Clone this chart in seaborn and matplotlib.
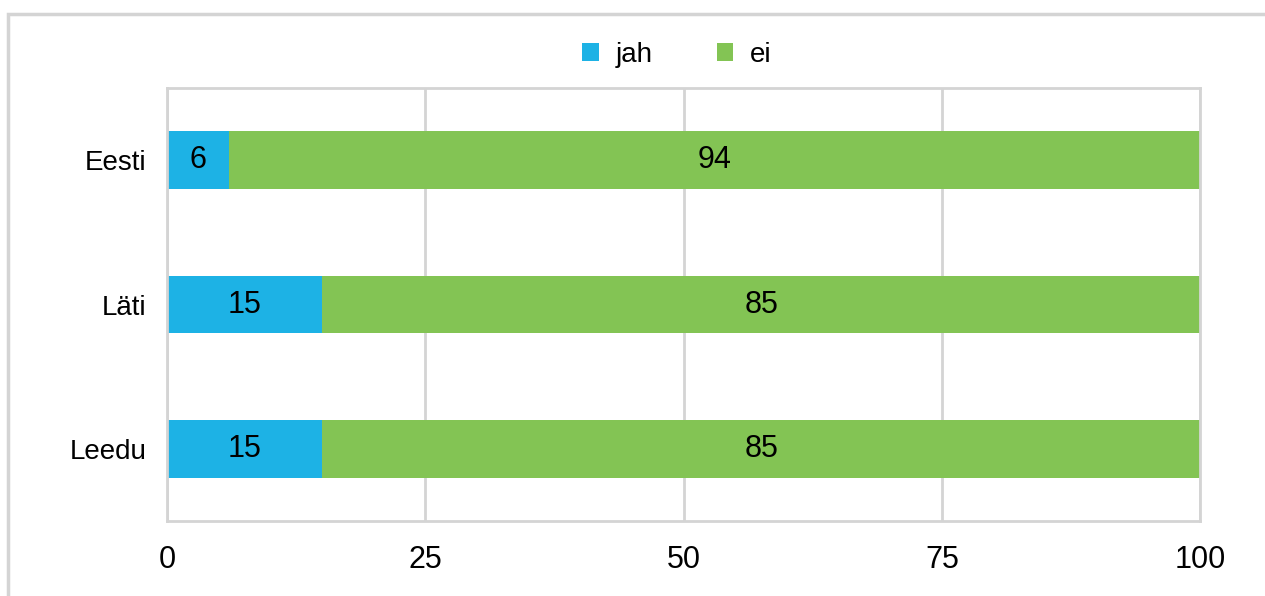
import pandas as pd
import seaborn as sns
import matplotlib.pyplot as plt
from matplotlib.patches import Rectangle, Patch

sns.set_style('white')
plt.rcParams['font.family'] = ['Liberation Sans', 'DejaVu Sans']

countries = ['Eesti', 'Läti', 'Leedu']
jah = [6, 15, 15]
ei = [94, 85, 85]
x_ticks = [0, 25, 50, 75, 100]

blue = '#1DB2E5'
green = '#83C454'
grey = '#D4D4D4'

df = pd.DataFrame({'country': countries, 'jah': jah, 'ei': ei})
df['total'] = df['jah'] + df['ei']

fig = plt.figure(figsize=(12.65, 5.96), dpi=100)
ax = fig.add_axes([0.132, 0.1258, 0.8168, 0.7265])

# stacked: full bar in green, jah part on top in blue
sns.barplot(data=df, x='total', y='country', color=green, width=0.4,
            orient='h', ax=ax, saturation=1, linewidth=0)
sns.barplot(data=df, x='jah', y='country', color=blue, width=0.4,
            orient='h', ax=ax, saturation=1, linewidth=0)

for i, (j, e) in enumerate(zip(jah, ei)):
    ax.text(j / 2, i, str(j), ha='center', va='center', fontsize=22, color='black')
    ax.text(j + e / 2, i, str(e), ha='center', va='center', fontsize=22, color='black')

ax.set_xlim(0, 100)
ax.set_ylim(2.5, -0.5)
ax.set_xticks(x_ticks)
ax.set_xticklabels([str(t) for t in x_ticks], fontsize=22)
ax.tick_params(axis='x', length=0, pad=17, colors='black')
ax.tick_params(axis='y', length=0, pad=15, labelsize=20, colors='black')
ax.set_xlabel('')
ax.set_ylabel('')
ax.grid(axis='x', color=grey, linewidth=2)
ax.set_axisbelow(True)
for s in ax.spines.values():
    s.set_color(grey)
    s.set_linewidth(2)

handles = [Patch(facecolor=blue, edgecolor='none', label='jah'),
           Patch(facecolor=green, edgecolor='none', label='ei')]
fig.legend(handles=handles, loc='center', bbox_to_anchor=(677 / 1265, 1 - 55 / 596),
           ncol=2, frameon=False, fontsize=20, handlelength=0.6, handleheight=0.6,
           columnspacing=2.3, handletextpad=0.6, labelcolor='black')

fig.patches.append(Rectangle((8 / 1265, -0.1), 1.2, 1.1 - 14 / 596,
                             transform=fig.transFigure, fill=False,
                             edgecolor=grey, linewidth=2.5))

fig.savefig('out.png', dpi=100)
